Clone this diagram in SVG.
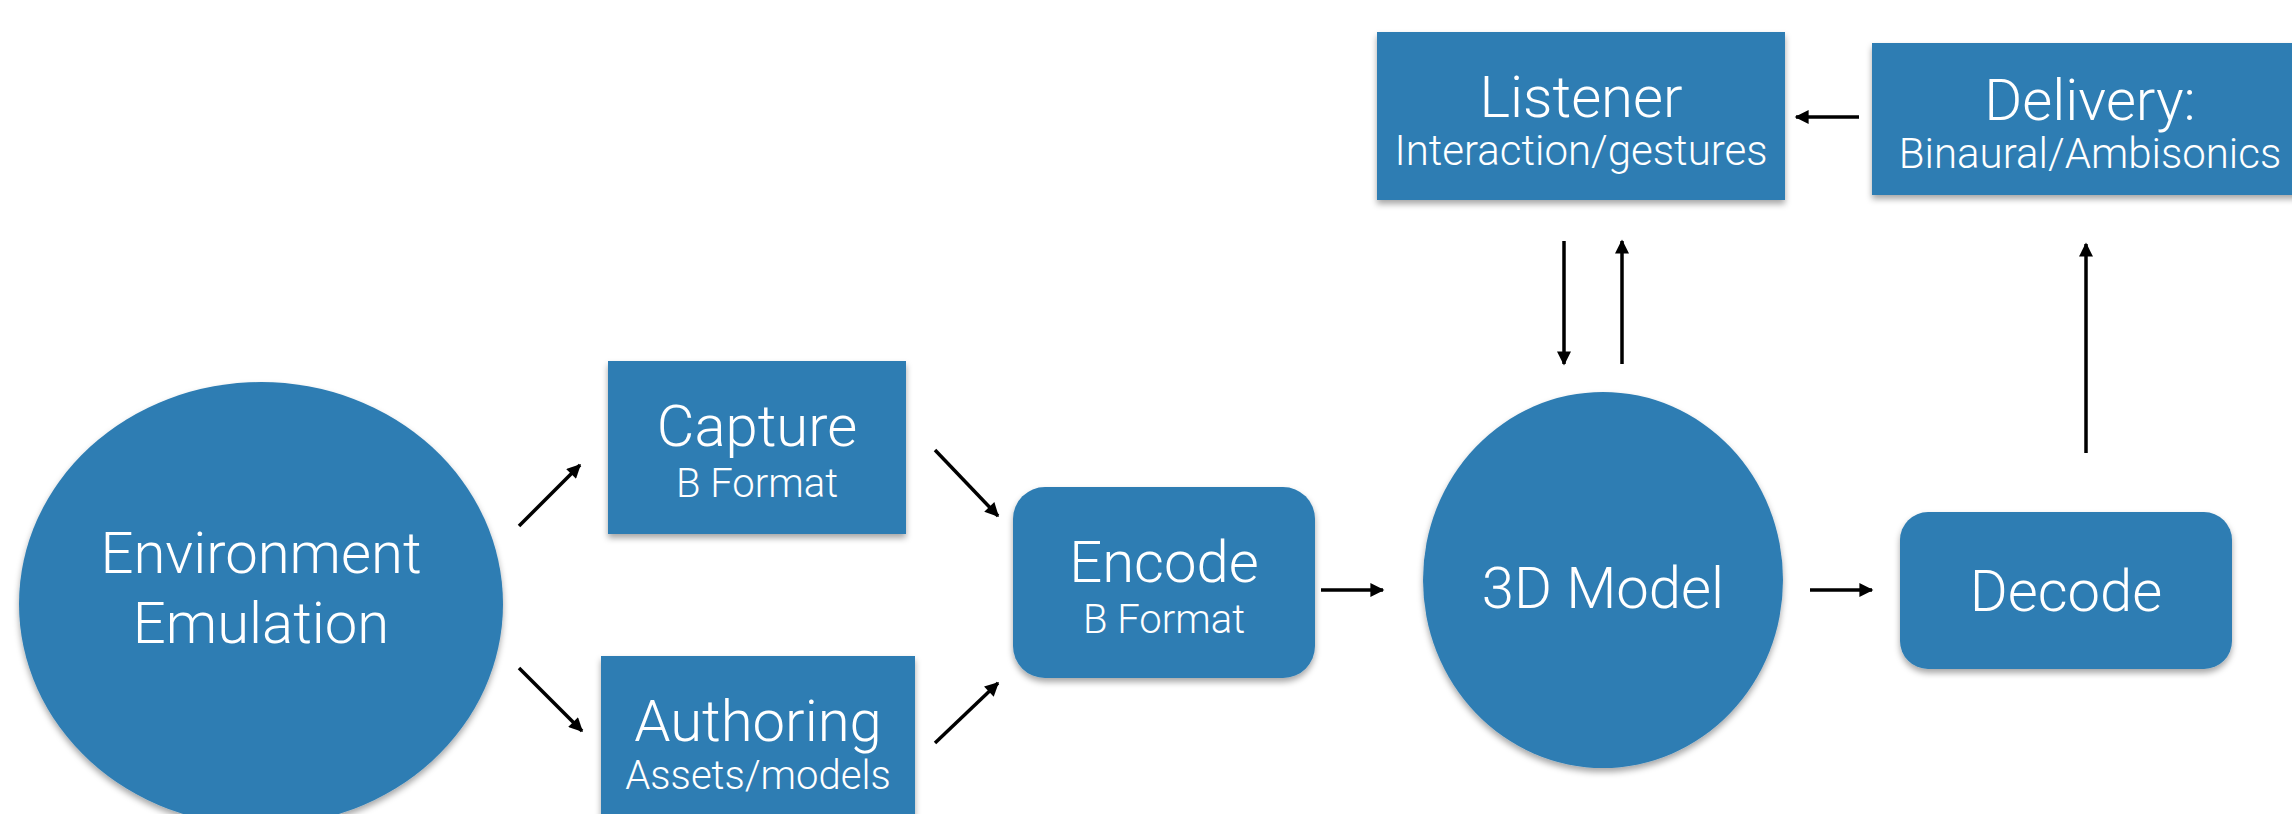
<svg xmlns="http://www.w3.org/2000/svg" width="2292" height="814" viewBox="0 0 2292 814">
<style>
.n{fill:#2e7db3;filter:url(#sh)}
.t{fill:#fff;font-family:Roboto,"Liberation Sans",sans-serif;font-weight:300;text-anchor:middle}
.big{font-size:58px}
.sm{font-size:40px}
.sm2{font-size:42px}
.c{stroke:#000;stroke-width:3.5;fill:none;marker-end:url(#ah)}
</style>
<defs>
<filter id="sh" x="-10%" y="-10%" width="120%" height="130%">
<feDropShadow dx="0" dy="4" stdDeviation="3" flood-color="#000" flood-opacity="0.35"/>
</filter>
<marker id="ah" viewBox="0 0 10 10" refX="9" refY="5" markerWidth="4.5" markerHeight="4" orient="auto" markerUnits="strokeWidth">
<path d="M0,0 L10,5 L0,10 z" fill="#000"/>
</marker>
</defs>
<rect width="2292" height="814" fill="#fff"/>
<g id="env">
<ellipse class="n" cx="261" cy="604" rx="242" ry="222"/>
<text class="t big" x="261" y="573">Environment</text>
<text class="t big" x="261" y="643">Emulation</text>
</g>
<g id="capture">
<rect class="n" x="608" y="361" width="298" height="173"/>
<text class="t big" x="757" y="446">Capture</text>
<text class="t sm" x="757" y="497">B Format</text>
</g>
<g id="authoring">
<rect class="n" x="601" y="656" width="314" height="170"/>
<text class="t big" x="758" y="741">Authoring</text>
<text class="t sm" x="758" y="789">Assets/models</text>
</g>
<g id="encode">
<rect class="n" x="1013" y="487" width="302" height="191" rx="32"/>
<text class="t big" x="1164" y="582">Encode</text>
<text class="t sm" x="1164" y="633">B Format</text>
</g>
<g id="model">
<ellipse class="n" cx="1603" cy="580" rx="180" ry="188"/>
<text class="t big" x="1603" y="608">3D Model</text>
</g>
<g id="decode">
<rect class="n" x="1900" y="512" width="332" height="157" rx="28"/>
<text class="t big" x="2066" y="611">Decode</text>
</g>
<g id="listener">
<rect class="n" x="1377" y="32" width="408" height="168"/>
<text class="t big" x="1581" y="117">Listener</text>
<text class="t sm2" x="1581" y="165">Interaction/gestures</text>
</g>
<g id="delivery">
<rect class="n" x="1872" y="43" width="440" height="152"/>
<text class="t big" x="2090" y="120">Delivery:</text>
<text class="t sm2" x="2090" y="168">Binaural/Ambisonics</text>
</g>
<g id="connectors">
<line class="c" x1="519" y1="526" x2="580" y2="465"/>
<line class="c" x1="519" y1="668" x2="582" y2="731"/>
<line class="c" x1="935" y1="450" x2="998" y2="516"/>
<line class="c" x1="935" y1="743" x2="998" y2="683"/>
<line class="c" x1="1321" y1="590" x2="1383" y2="590"/>
<line class="c" x1="1810" y1="590" x2="1872" y2="590"/>
<line class="c" x1="2086" y1="453" x2="2086" y2="244"/>
<line class="c" x1="1859" y1="117" x2="1796" y2="117"/>
<line class="c" x1="1564" y1="241" x2="1564" y2="364"/>
<line class="c" x1="1622" y1="364" x2="1622" y2="241"/>
</g>
</svg>
